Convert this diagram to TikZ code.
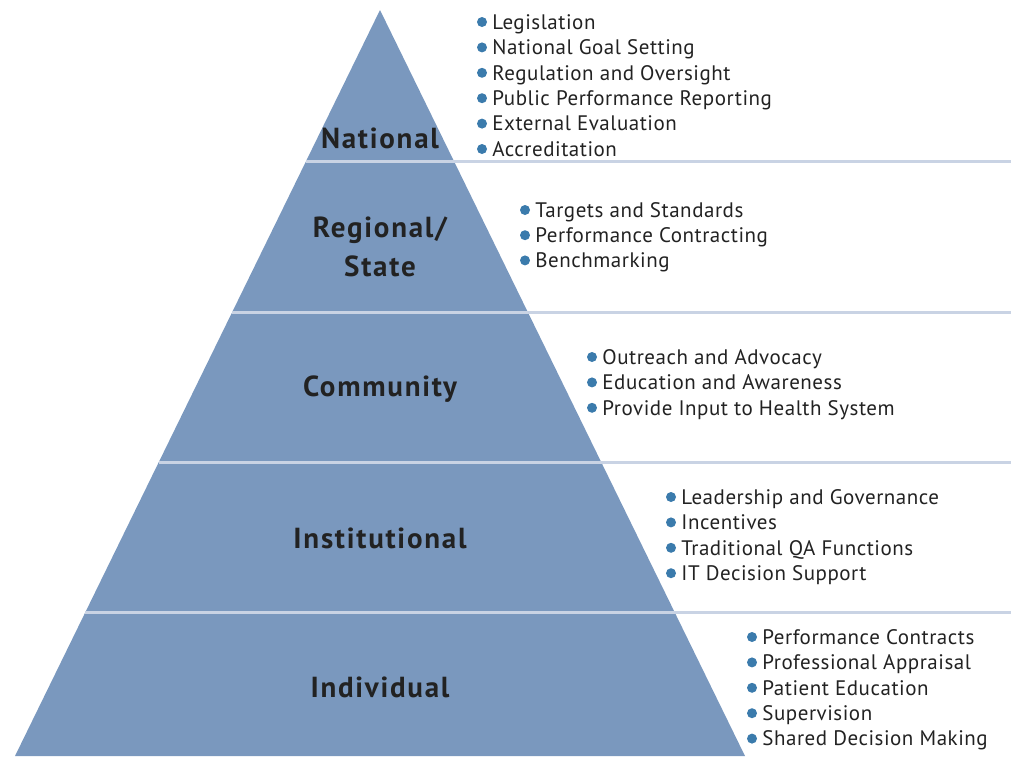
\documentclass[tikz,border=0pt]{standalone}
\usepackage{fontspec}
\setmainfont{PT Sans}
\usetikzlibrary{positioning}
\definecolor{pyrblue}{HTML}{7A98BE}
\definecolor{rulecol}{HTML}{C9D3E4}
\definecolor{dotblue}{HTML}{3B7BAC}
\definecolor{ink}{HTML}{222222}

\begin{document}
\begin{tikzpicture}[x=1pt,y=-1pt,
  level/.style={font=\fontsize{29}{39}\selectfont\bfseries\addfontfeature{LetterSpace=6},text=ink,align=center},
  item/.style={font=\fontsize{21}{25}\selectfont\addfontfeature{LetterSpace=2.5},text=ink,inner sep=0pt,text height=14.5pt,text depth=0pt},
  dot/.style={circle,fill=dotblue,inner sep=0pt,minimum size=10pt}]
\useasboundingbox (0,0) rectangle (1011,756);
\fill[pyrblue] (380,10) -- (745,756) -- (15,756) -- cycle;
% dividers
\foreach \y in {161,312,462,612}
  \draw[rulecol,line width=3pt] ({380-0.4893*(\y-10)},\y) -- (1011,\y);
% levels
\node[level] (national) at (380,138) {National};
\node[level] (regional) at (380,247) {Regional/\\State};
\node[level] (community) at (380,389) {Community};
\node[level] (institutional) at (380,538) {Institutional};
\node[level] (individual) at (380,687) {Individual};
% lists
\foreach \t [count=\i from 0] in {Legislation,National Goal Setting,Regulation and Oversight,Public Performance Reporting,External Evaluation,Accreditation}{
  \node[dot] (nat-d\i) at (482,22+25.4*\i) {};
  \node[item,right=5pt of nat-d\i] (nat-t\i) {\t};
}
\foreach \t [count=\i from 0] in {Targets and Standards,Performance Contracting,Benchmarking}{
  \node[dot] (reg-d\i) at (525,210+25.2*\i) {};
  \node[item,right=5pt of reg-d\i] (reg-t\i) {\t};
}
\foreach \t [count=\i from 0] in {Outreach and Advocacy,Education and Awareness,Provide Input to Health System}{
  \node[dot] (com-d\i) at (592,357+25.4*\i) {};
  \node[item,right=5pt of com-d\i] (com-t\i) {\t};
}
\foreach \t [count=\i from 0] in {Leadership and Governance,Incentives,Traditional QA Functions,IT Decision Support}{
  \node[dot] (ins-d\i) at (671,497+25.4*\i) {};
  \node[item,right=5pt of ins-d\i] (ins-t\i) {\t};
}
\foreach \t [count=\i from 0] in {Performance Contracts,Professional Appraisal,Patient Education,Supervision,Shared Decision Making}{
  \node[dot] (ind-d\i) at (752,637+25.4*\i) {};
  \node[item,right=5pt of ind-d\i] (ind-t\i) {\t};
}
\end{tikzpicture}
\end{document}
